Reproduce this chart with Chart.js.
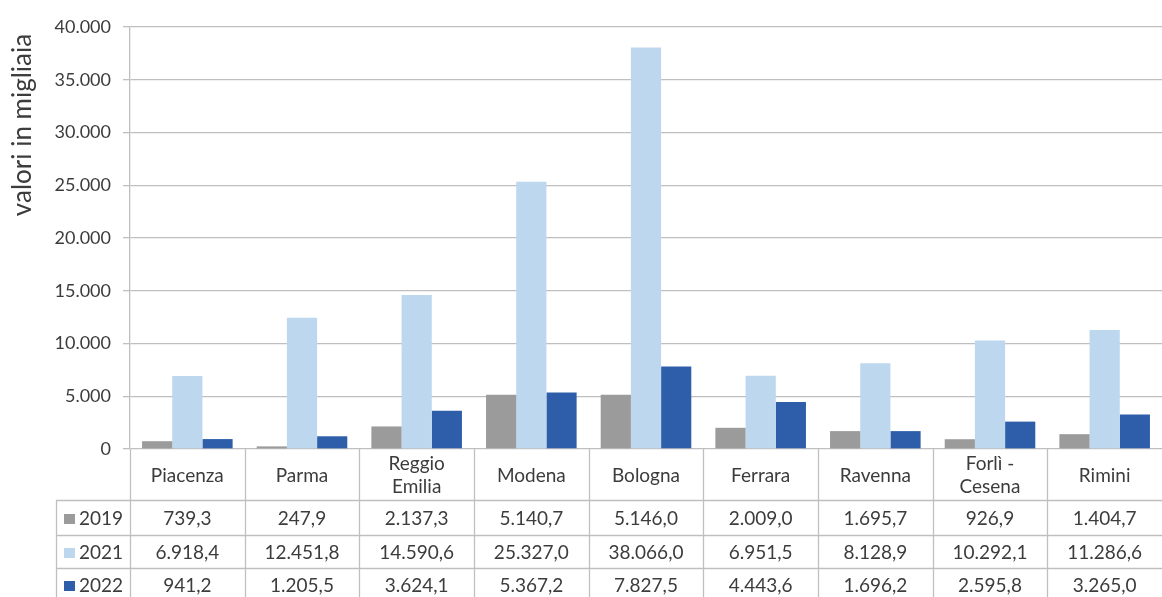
<!DOCTYPE html>
<html>
<head>
<meta charset="utf-8">
<script src="https://cdn.jsdelivr.net/npm/chart.js@4/dist/chart.umd.min.js"></script>
<style>
html,body{margin:0;padding:0;background:#fff;overflow:hidden;}
#wrap{width:1162px;height:597px;position:relative;}
canvas{display:block;}
</style>
</head>
<body>
<div id="wrap"><canvas id="c" width="1162" height="597"></canvas></div>
<script>
const categories = [["Piacenza"],["Parma"],["Reggio","Emilia"],["Modena"],["Bologna"],["Ferrara"],["Ravenna"],["Forlì -","Cesena"],["Rimini"]];
const seriesNames = ["2019","2021","2022"];
const values2019 = [739.3, 247.9, 2137.3, 5140.7, 5146.0, 2009.0, 1695.7, 926.9, 1404.7];
const values2021 = [6918.4, 12451.8, 14590.6, 25327.0, 38066.0, 6951.5, 8128.9, 10292.1, 11286.6];
const values2022 = [941.2, 1205.5, 3624.1, 5367.2, 7827.5, 4443.6, 1696.2, 2595.8, 3265.0];
const yTicks = [0, 5000, 10000, 15000, 20000, 25000, 30000, 35000, 40000];
const yTitle = "valori in migliaia";

const colors = ["#9B9B9B", "#BDD7EE", "#2E5EAA"];
const FONT = "Lato, 'Open Sans', sans-serif";
const TXT = "#3C3C3C";
const LINE = "#BFBFBF";

function groupInt(n){
  const s = String(n);
  return s.replace(/\B(?=(\d{3})+(?!\d))/g, ".");
}
function fmt1(v){
  const fixed = v.toFixed(1);
  const [i,d] = fixed.split(".");
  return groupInt(i) + "," + d;
}

const seriesValues = [values2019, values2021, values2022];

const tablePlugin = {
  id: "dataTable",
  afterDraw(chart){
    const ctx = chart.ctx;
    const ca = chart.chartArea;
    const xs = chart.scales.x;
    const n = categories.length;
    const catW = (ca.right - ca.left) / n;
    const top = ca.bottom;
    const headerBottom = top + 51;
    const rowsY = [headerBottom, headerBottom + 35, headerBottom + 68, headerBottom + 102];
    const legendLeft = 56;
    ctx.save();
    ctx.strokeStyle = LINE;
    ctx.lineWidth = 1.3;
    for (let i = 1; i < n; i++){
      const x = Math.round(ca.left + i*catW) + 0.5;
      ctx.beginPath();
      ctx.moveTo(x, top);
      ctx.lineTo(x, 597);
      ctx.stroke();
    }
    ctx.beginPath();
    ctx.moveTo(Math.round(ca.left) + 0.5, top);
    ctx.lineTo(Math.round(ca.left) + 0.5, 597);
    ctx.stroke();
    ctx.beginPath();
    ctx.moveTo(legendLeft + 0.5, headerBottom);
    ctx.lineTo(legendLeft + 0.5, 597);
    ctx.stroke();
    for (let r = 0; r < 3; r++){
      const y = Math.round(rowsY[r]) + 0.5;
      ctx.beginPath();
      ctx.moveTo(legendLeft, y);
      ctx.lineTo(ca.right, y);
      ctx.stroke();
    }
    ctx.fillStyle = TXT;
    ctx.textAlign = "center";
    ctx.textBaseline = "middle";
    ctx.font = "19px " + FONT;
    for (let i = 0; i < n; i++){
      const cx = xs.getPixelForTick(i);
      const lines = categories[i];
      const mid = (top + headerBottom)/2 + 1;
      const lh = 23;
      lines.forEach((t, k) => {
        ctx.fillText(t, cx, mid + (k - (lines.length-1)/2)*lh);
      });
    }
    for (let r = 0; r < 3; r++){
      const yMid = (rowsY[r] + rowsY[r+1]) / 2 + 1;
      ctx.fillStyle = colors[r];
      ctx.fillRect(64, Math.round(yMid) - 5, 11, 10);
      ctx.fillStyle = TXT;
      ctx.textAlign = "left";
      ctx.font = "19px " + FONT;
      ctx.fillText(seriesNames[r], 79, yMid);
      ctx.textAlign = "center";
      for (let i = 0; i < n; i++){
        ctx.fillText(fmt1(seriesValues[r][i]), xs.getPixelForTick(i), yMid);
      }
    }
    ctx.save();
    ctx.translate(23, 125);
    ctx.rotate(-Math.PI/2);
    ctx.font = "26px " + FONT;
    ctx.fillStyle = TXT;
    ctx.textAlign = "center";
    ctx.textBaseline = "middle";
    ctx.fillText(yTitle, 0, 0);
    ctx.restore();
    ctx.restore();
  }
};

new Chart(document.getElementById("c"), {
  type: "bar",
  data: {
    labels: categories.map(c => c.join(" ")),
    datasets: seriesNames.map((name, k) => ({
      label: name,
      data: seriesValues[k],
      backgroundColor: colors[k],
      borderWidth: 0,
      categoryPercentage: 0.79,
      barPercentage: 1.0
    }))
  },
  options: {
    responsive: false,
    animation: false,
    devicePixelRatio: 1,
    layout: { padding: { left: 0, right: 0, top: 27, bottom: 148 } },
    plugins: { legend: { display: false }, tooltip: { enabled: false } },
    scales: {
      x: {
        display: false
      },
      y: {
        min: 0, max: 40000,
        afterFit(axis){ axis.width = 130; },
        afterBuildTicks(axis){ axis.ticks = yTicks.map(v => ({ value: v })); },
        ticks: {
          color: TXT,
          font: { family: FONT, size: 18 },
          padding: 12,
          callback: v => groupInt(v)
        },
        grid: { color: LINE, lineWidth: 1.3, tickLength: 7, drawTicks: true },
        border: { display: true, color: LINE, width: 1.3 }
      }
    }
  },
  plugins: [tablePlugin]
});
</script>
</body>
</html>
